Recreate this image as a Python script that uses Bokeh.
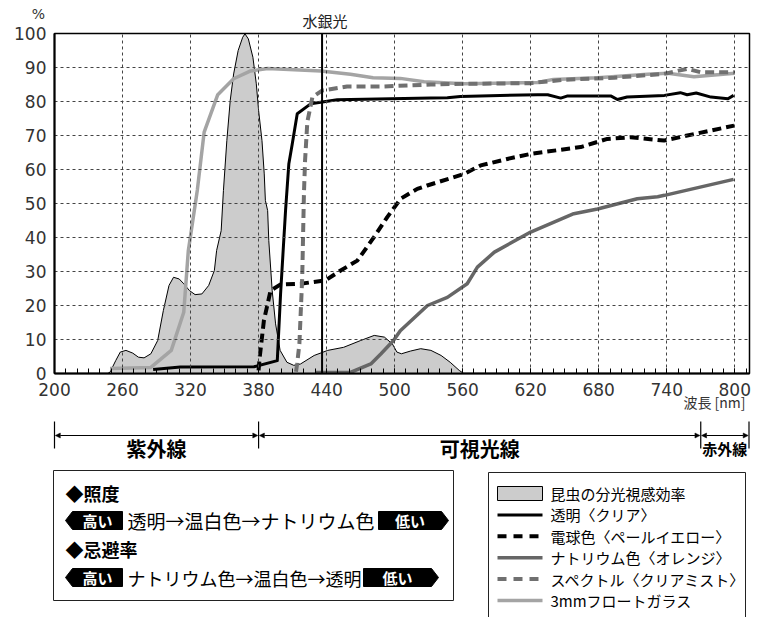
from bokeh.plotting import figure
from bokeh.models import Range1d, FixedTicker, Arrow, NormalHead, Span
from bokeh.layouts import column
from bokeh.embed import file_html
from bokeh.resources import INLINE
from bokeh.core.properties import value

# ---------------- data ----------------
x_ticks = [200, 260, 320, 380, 440, 500, 560, 620, 680, 740, 800]
x_minor = list(range(200, 811, 10))
y_ticks = [0, 10, 20, 30, 40, 50, 60, 70, 80, 90, 100]

mercury_nm = 436

insect_nm = [247, 249, 254, 258, 263, 269, 274, 279, 285, 291, 296, 301, 305, 310, 314, 319, 324,
             330, 336, 341, 343, 347, 349, 352, 355, 358, 362, 366, 368, 371, 375, 378, 380, 383,
             385, 386, 388, 389, 392, 395, 399, 405, 411, 417, 429, 441, 455, 470, 482, 491, 498,
             502, 506, 514, 523, 532, 541, 549, 557, 561]
insect_val = [0, 0.4, 3.8, 6.3, 6.8, 6.0, 4.8, 4.6, 5.8, 9.7, 18.5, 25.9, 28.3, 27.8, 26.4, 24.4, 23.2,
              23.4, 25.9, 30.3, 36.2, 42, 53.8, 68.5, 80.3, 88.1, 95, 98.9, 99.9, 98.4, 93, 85.2, 77.4, 68.5,
              58.7, 50.9, 47.9, 39.1, 24.4, 14.6, 6.8, 3.3, 2.4, 2.8, 5.3, 6.8, 7.7, 9.7, 11.2, 10.7, 8.7,
              6.3, 5.8, 6.6, 7.3, 6.8, 5.3, 3.3, 0.9, 0]

clear_nm = [287, 311, 376, 396.5, 399.4, 403.8, 406.7, 409.7, 414.1, 425.9, 434.7, 449.4, 532, 546.5,
            558, 626, 635, 646.5, 652, 691, 696.5, 705, 738, 752, 758, 766, 779, 794, 799]
clear_val = [1.2, 1.9, 2.0, 3.8, 23.4, 48, 61.7, 67.5, 76.4, 79.3, 79.8, 80.5, 81, 81.1,
             81.5, 82, 82, 81, 81.6, 81.6, 80.6, 81.3, 81.8, 82.6, 82, 82.5, 81.3, 80.8, 81.8]

warm_nm = [380, 381, 384.7, 390.6, 399.4, 417, 439.1, 452.4, 467.1, 481.8, 493.5, 505.3, 520, 528.8,
           561.2, 575.9, 599.4, 620, 664.1, 687.6, 708.2, 737.6, 758.2, 799.4]
warm_val = [0.9, 4.8, 15.6, 24.4, 26.2, 26.4, 27.4, 30.3, 33.2, 40.1, 46, 51.4, 54.3, 55.3,
            58.7, 61.2, 63.1, 64.6, 66.6, 69, 69.5, 68.5, 70, 72.9]

sodium_nm = [430, 461, 479, 488, 499, 505, 529, 546.5, 564, 573, 588, 620, 658, 679, 714, 732, 738, 799]
sodium_val = [0.3, 0.3, 2.8, 5.8, 9.7, 12.6, 20, 22.4, 26.4, 31.3, 35.7, 41.6, 47, 48.4, 51.4, 52, 52.4, 57.1]

spectral_nm = [413, 414, 416, 418.5, 420, 421, 423, 427.5, 436, 458, 488, 532, 561, 620, 649,
               693.5, 737.5, 758, 770, 799.5]
spectral_val = [0.5, 2.8, 8.7, 28.3, 52.8, 62.6, 74, 81.3, 83.2, 84.4, 84.4, 85, 85.2, 85.4, 86.4,
                87, 88.1, 89.6, 88.6, 88.6]

glass_nm = [249, 285, 303, 314, 318, 326, 332, 344, 358, 373, 388, 435, 461, 481, 505, 526, 561,
            626, 640, 679, 723, 741, 764, 800]
glass_val = [1.5, 1.8, 6.8, 18, 36, 54, 71, 82, 86.7, 89, 89.7, 89, 88, 87, 86.8, 85.8, 85.2,
             85.6, 86.5, 87, 88, 88.3, 87.3, 88.3]

region_edges = [200, 380, 770, 813]
region_names = ["紫外線", "可視光線", "赤外線"]

legend_labels = ["昆虫の分光視感効率", "透明〈クリア〉", "電球色〈ペールイエロー〉",
                 "ナトリウム色〈オレンジ〉", "スペクトル〈クリアミスト〉", "3mmフロートガラス"]

box_head1 = "◆照度"
box_row1 = "透明→温白色→ナトリウム色"
box_head2 = "◆忌避率"
box_row2 = "ナトリウム色→温白色→透明"
tag_high = "高い"
tag_low = "低い"
unit_text = "%"
mercury_text = "水銀光"
wl_text = "波長 [nm]"

# ---------------- layout constants (page pixels) ----------------
JP = "Noto Sans CJK JP"
NUM = "DejaVu Sans"
W, H = 773, 617
X_MIN, X_MAX = 200, 813
FR_L, FR_R, FR_T, FR_B = 54, 749, 33, 373     # plot frame in page pixels


def nm_px(nm):
    return FR_L + (nm - X_MIN) * (FR_R - FR_L) / (X_MAX - X_MIN)


# ---------------- main chart ----------------
p = figure(width=W, height=H, x_range=Range1d(X_MIN, X_MAX), y_range=Range1d(0, 100),
           output_backend="svg", toolbar_location=None,
           min_border_left=FR_L, min_border_right=W - FR_R,
           min_border_top=FR_T, min_border_bottom=H - FR_B)
p.frame_align = False
p.background_fill_color = "white"
p.border_fill_color = "white"
p.outline_line_color = "black"
p.outline_line_width = 1.5

p.varea(x=insect_nm, y1=0, y2=insect_val, fill_color="#cccccc", level="underlay")
p.line(insect_nm, insect_val, line_color="black", line_width=1, level="underlay")

p.xgrid.ticker = FixedTicker(ticks=x_ticks[1:])
p.ygrid.ticker = FixedTicker(ticks=y_ticks[1:-1])
for g in list(p.xgrid) + list(p.ygrid):
    g.grid_line_color = "#444444"
    g.grid_line_dash = "3 3"
    g.grid_line_width = 1
    g.level = "glyph"

p.line(glass_nm, glass_val, line_color="#a4a4a4", line_width=3.5, line_join="round")
p.line(sodium_nm, sodium_val, line_color="#666666", line_width=3.5, line_join="round")
p.line(warm_nm, warm_val, line_color="black", line_width=4, line_dash="9 5")
p.line(clear_nm, clear_val, line_color="black", line_width=3, line_join="round")
p.line(spectral_nm, spectral_val, line_color="#707070", line_width=4, line_dash="9 5")

p.add_layout(Span(location=mercury_nm, dimension="height", line_color="black", line_width=2))

xa = p.xaxis[0]
xa.ticker = FixedTicker(ticks=x_ticks, minor_ticks=x_minor)
xa.axis_line_width = 2
xa.axis_line_color = "black"
xa.major_tick_in = 5
xa.major_tick_out = 0
xa.minor_tick_in = 5
xa.minor_tick_out = 0
xa.major_tick_line_color = "black"
xa.minor_tick_line_color = "black"
xa.major_label_text_font = NUM
xa.major_label_text_font_size = "17px"
xa.major_label_text_color = "#333333"
xa.major_label_standoff = 9

ya = p.yaxis[0]
ya.ticker = FixedTicker(ticks=y_ticks)
ya.axis_line_width = 2
ya.axis_line_color = "black"
ya.major_tick_in = 0
ya.major_tick_out = 0
ya.minor_tick_line_color = None
ya.major_label_text_font = NUM
ya.major_label_text_font_size = "17px"
ya.major_label_text_color = "#333333"
ya.major_label_standoff = 8

# ---------------- transparent overlay in page pixels (drawn over the chart) ----------------
q = figure(width=W, height=H, x_range=Range1d(0, W), y_range=Range1d(H, 0),
           output_backend="svg", toolbar_location=None, min_border=0,
           x_axis_type=None, y_axis_type=None, margin=(-H, 0, 0, 0))
q.frame_align = False
q.outline_line_color = None
q.background_fill_alpha = 0
q.border_fill_alpha = 0
q.grid.visible = False

q.text(x=[38], y=[13], text=[unit_text], text_font=value(NUM), text_font_size=value("14px"),
       text_align="center", text_baseline="middle", text_color="#333333")
q.text(x=[nm_px(mercury_nm) + 3], y=[20], text=[mercury_text], text_font=value(JP),
       text_font_size=value("15px"), text_align="center", text_baseline="middle", text_color="#222222")
q.text(x=[745], y=[401], text=[wl_text], text_font=value(JP), text_font_size=value("14px"),
       text_align="right", text_baseline="middle", text_color="#333333")

edges_px = [nm_px(e) for e in region_edges]
edges_px[-1] -= 0.5
q.segment(x0=edges_px, y0=[421] * len(edges_px), x1=edges_px, y1=[448] * len(edges_px),
          line_color="black", line_width=1.2)
for a, b in zip(edges_px[:-1], edges_px[1:]):
    q.add_layout(Arrow(x_start=a + 0.8, y_start=435, x_end=b - 0.8, y_end=435,
                       line_color="black", line_width=1,
                       start=NormalHead(size=5, fill_color="black", line_color="black", line_width=0.5),
                       end=NormalHead(size=5, fill_color="black", line_color="black", line_width=0.5)))
region_cx = [(a + b) / 2 for a, b in zip(edges_px[:-1], edges_px[1:])]
region_fs = ["20px", "20px", "15px"]
for cx, name, fs in zip(region_cx, region_names, region_fs):
    q.text(x=[cx], y=[448], text=[name], text_font=value(JP), text_font_size=value(fs),
           text_font_style="bold", text_align="center", text_baseline="middle", text_color="black")

# left info box
q.quad(left=[53], right=[453], top=[470], bottom=[600], fill_color=None,
       line_color="#222222", line_width=1)


def tag_shape(x0, x1, tip, cy, hh=18):
    t, b = cy - hh / 2, cy + hh / 2
    if tip < x0:
        return [tip, x0, x1, x1, x0], [cy, t, t, b, b]
    return [x0, x1, tip, x1, x0], [t, t, cy, b, b]


rows = [
    (box_head1, 492, None, None, "18px"),
    (box_row1, 520, (65, 72, 122), (378, 441, 448), "19px"),
    (box_head2, 548, None, None, "18px"),
    (box_row2, 577, (65, 72, 122), (363, 431, 438), "18px"),
]
for txt, wy, hi, lo, fs in rows:
    if hi is None:
        q.text(x=[65], y=[wy], text=[txt], text_font=value(JP), text_font_size=value(fs),
               text_font_style="bold", text_align="left", text_baseline="middle", text_color="black")
        continue
    tip, x0, x1 = hi
    xs, ys = tag_shape(x0, x1, tip, wy)
    q.patch(xs, ys, fill_color="black", line_color="black")
    q.text(x=[(x0 + x1) / 2], y=[wy], text=[tag_high], text_font=value(JP),
           text_font_size=value("15px"), text_font_style="bold", text_align="center",
           text_baseline="middle", text_color="white")
    x0, x1, tip = lo
    xs, ys = tag_shape(x0, x1, tip, wy)
    q.patch(xs, ys, fill_color="black", line_color="black")
    q.text(x=[(x0 + x1) / 2], y=[wy], text=[tag_low], text_font=value(JP),
           text_font_size=value("15px"), text_font_style="bold", text_align="center",
           text_baseline="middle", text_color="white")
    q.text(x=[127], y=[wy], text=[txt], text_font=value(JP), text_font_size=value(fs),
           text_align="left", text_baseline="middle", text_color="black")

# right legend box (its bottom edge runs off the page)
q.quad(left=[488], right=[745], top=[472], bottom=[660], fill_color=None,
       line_color="#222222", line_width=1)
sw_x0, sw_x1, txt_x = 497, 542, 550
row_y = [493 + 21.4 * i for i in range(len(legend_labels))]
q.quad(left=[sw_x0], right=[sw_x1], top=[row_y[0] - 7], bottom=[row_y[0] + 7],
       fill_color="#cccccc", line_color="black", line_width=1)
q.line([sw_x0, sw_x1], [row_y[1]] * 2, line_color="black", line_width=3)
q.line([sw_x0, sw_x1], [row_y[2]] * 2, line_color="black", line_width=4, line_dash="9 7")
q.line([sw_x0, sw_x1], [row_y[3]] * 2, line_color="#666666", line_width=3.5)
q.line([sw_x0, sw_x1], [row_y[4]] * 2, line_color="#707070", line_width=4, line_dash="9 7")
q.line([sw_x0, sw_x1], [row_y[5]] * 2, line_color="#a4a4a4", line_width=3.5)
q.text(x=[txt_x] * len(legend_labels), y=row_y, text=legend_labels, text_font=value(JP),
       text_font_size=value("15px"), text_align="left", text_baseline="middle", text_color="black")

layout = column(p, q, spacing=0)
open("out.html", "w").write(file_html(layout, INLINE))
